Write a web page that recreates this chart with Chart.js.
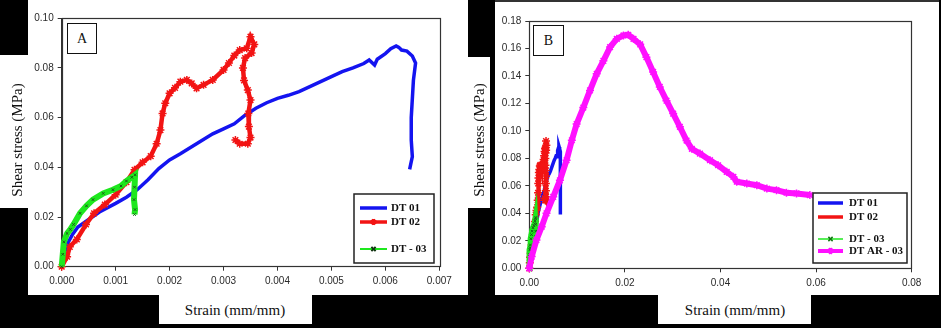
<!DOCTYPE html>
<html><head><meta charset="utf-8">
<script src="https://cdn.jsdelivr.net/npm/chart.js@4/dist/chart.umd.min.js"></script>
<style>
html,body{margin:0;padding:0;background:#fff;}
body{width:941px;height:328px;position:relative;overflow:hidden;}
canvas{position:absolute;top:0;}
.blk{position:absolute;background:#000;}
.wht{position:absolute;background:#fff;}
.ttl{position:absolute;font-family:"Liberation Serif","Times New Roman",serif;font-size:15px;color:#111;white-space:nowrap;line-height:1;}
.ylab{transform:translate(-50%,-50%) rotate(-90deg);}
.xlab{transform:translate(-50%,-50%);}
.pl{position:absolute;box-sizing:border-box;border:1.5px solid #111;font-family:"Liberation Serif","Times New Roman",serif;font-size:14px;color:#111;display:flex;align-items:center;justify-content:center;background:#fff;}
</style>
</head><body>
<canvas id="cA" width="470" height="295" style="left:0"></canvas>
<canvas id="cB" width="471" height="295" style="left:470px"></canvas>

<div class="blk" style="left:0;top:0;width:28px;height:55px"></div>
<div class="blk" style="left:0;top:208px;width:28px;height:87px"></div>
<div class="blk" style="left:0;top:295px;width:941px;height:33px"></div>
<div class="wht" style="left:159px;top:295px;width:153px;height:29px"></div>
<div class="wht" style="left:658px;top:295px;width:153px;height:29px"></div>
<div class="blk" style="left:468px;top:0;width:27px;height:57px"></div>
<div class="blk" style="left:490px;top:57px;width:5px;height:151px"></div>
<div class="blk" style="left:468px;top:208px;width:27px;height:87px"></div>
<div class="blk" style="left:495px;top:0;width:446px;height:2px;background:#333"></div>
<div class="blk" style="left:939px;top:0;width:2px;height:295px"></div>

<div class="ttl ylab" style="left:17px;top:140px">Shear stress (MPa)</div>
<div class="ttl ylab" style="left:479px;top:140px">Shear stress (MPa)</div>
<div class="ttl xlab" style="left:235px;top:310px">Strain (mm/mm)</div>
<div class="ttl xlab" style="left:735px;top:310px">Strain (mm/mm)</div>
<div class="pl" style="left:67px;top:23px;width:30px;height:31px">A</div>
<div class="pl" style="left:533px;top:25px;width:31px;height:31px">B</div>

<script>
// ---------- data ----------
const seriesNames = ["DT 01", "DT 02", "DT - 03", "DT AR - 03"];

const dt01Strain = [0, 0.00003, 0.0001, 0.0002, 0.0003, 0.0005, 0.0007, 0.0010, 0.0012, 0.0014, 0.0016, 0.0018, 0.0020, 0.0022, 0.0025, 0.0028, 0.0030, 0.0032, 0.0034, 0.0036, 0.0038, 0.0040, 0.0042, 0.0044, 0.0046, 0.0048, 0.0050, 0.0052, 0.0054, 0.0056, 0.0057, 0.0058, 0.00585, 0.0060, 0.0061, 0.0062, 0.00625, 0.0063, 0.0064, 0.0065, 0.00656, 0.00652, 0.00648, 0.00648, 0.00650, 0.00645];
const dt01Stress = [0, 0.004, 0.009, 0.013, 0.016, 0.019, 0.022, 0.0255, 0.028, 0.031, 0.035, 0.0395, 0.043, 0.0455, 0.0495, 0.0535, 0.0555, 0.0575, 0.061, 0.0638, 0.066, 0.0678, 0.069, 0.0705, 0.0725, 0.0745, 0.0765, 0.0785, 0.080, 0.0818, 0.0832, 0.0812, 0.0835, 0.0858, 0.0878, 0.0889, 0.0883, 0.0872, 0.0868, 0.0848, 0.0820, 0.0750, 0.0600, 0.0510, 0.0443, 0.0392];

const dt02Strain = [0, 0.0001, 0.00015, 0.00028, 0.00045, 0.0006, 0.0008, 0.0010, 0.0012, 0.00135, 0.0015, 0.00165, 0.00176, 0.00183, 0.00187, 0.00192, 0.0020, 0.0021, 0.0022, 0.00232, 0.00241, 0.0025, 0.00263, 0.0028, 0.0030, 0.0031, 0.0032, 0.0033, 0.00343, 0.0035, 0.00357, 0.00352, 0.0034, 0.00336, 0.00338, 0.00345, 0.0035, 0.00346, 0.00347, 0.0035, 0.00345, 0.0033, 0.00322];
const dt02Stress = [0, 0.004, 0.008, 0.011, 0.017, 0.0215, 0.025, 0.029, 0.034, 0.039, 0.042, 0.0445, 0.0495, 0.055, 0.0617, 0.0658, 0.0698, 0.072, 0.0745, 0.0752, 0.0738, 0.0718, 0.0732, 0.0752, 0.0792, 0.082, 0.085, 0.0872, 0.0879, 0.0926, 0.0895, 0.086, 0.084, 0.080, 0.075, 0.0711, 0.0671, 0.0617, 0.0564, 0.052, 0.0495, 0.0495, 0.051];

const dt03Strain = [0, 0.00002, 0.00004, 0.0001, 0.00016, 0.00022, 0.00034, 0.00046, 0.00058, 0.00077, 0.00095, 0.0011, 0.0012, 0.0013, 0.00136, 0.00135, 0.00134, 0.00136, 0.00135];
const dt03Stress = [0, 0.005, 0.010, 0.0134, 0.015, 0.017, 0.0215, 0.0245, 0.027, 0.0295, 0.031, 0.0325, 0.0345, 0.036, 0.037, 0.032, 0.027, 0.023, 0.021];

const dtAr03Strain = [0, 0.0005, 0.0015, 0.0026, 0.0036, 0.0050, 0.0064, 0.0078, 0.0089, 0.0099, 0.0113, 0.0127, 0.0141, 0.0155, 0.0169, 0.0183, 0.0197, 0.0207, 0.0218, 0.0232, 0.0245, 0.0259, 0.0273, 0.0287, 0.0301, 0.0315, 0.0329, 0.0340, 0.0357, 0.0378, 0.0395, 0.0413, 0.0427, 0.0434, 0.0455, 0.0476, 0.0497, 0.0517, 0.0538, 0.0559, 0.0587];
const dtAr03Stress = [0, 0.0085, 0.0206, 0.0303, 0.040, 0.052, 0.064, 0.0787, 0.0932, 0.105, 0.117, 0.1295, 0.1416, 0.151, 0.161, 0.167, 0.1695, 0.170, 0.167, 0.163, 0.1537, 0.1429, 0.132, 0.122, 0.1126, 0.103, 0.093, 0.087, 0.0835, 0.0787, 0.075, 0.0702, 0.0666, 0.063, 0.0617, 0.0605, 0.058, 0.0569, 0.055, 0.0545, 0.0533];

const xTicksA = [0, 0.001, 0.002, 0.003, 0.004, 0.005, 0.006, 0.007];
const yTicksA = [0, 0.02, 0.04, 0.06, 0.08, 0.10];
const xTicksB = [0, 0.02, 0.04, 0.06, 0.08];
const yTicksB = [0, 0.02, 0.04, 0.06, 0.08, 0.10, 0.12, 0.14, 0.16, 0.18];

// ---------- helpers ----------
const pts = (xs, ys) => xs.map((x, i) => ({x: x, y: ys[i]}));
const COL = {blue: '#1414f0', red: '#f21414', green: '#1ee81e', mag: '#ff10ff'};

function dsBlue(){ return {label: seriesNames[0], data: pts(dt01Strain, dt01Stress), borderColor: COL.blue, backgroundColor: COL.blue, borderWidth: 3.5, pointRadius: 0, _leg:{w:3.5}}; }
function dsRed(){ return {label: seriesNames[1], data: pts(dt02Strain, dt02Stress), borderColor: COL.red, backgroundColor: COL.red, borderWidth: 4.5, pointStyle: 'star', pointRadius: 4, pointBorderWidth: 1.5, pointBorderColor: COL.red, _leg:{w:3.5, marker:'star', mc: COL.red}}; }
function dsGreen(){ return {label: seriesNames[2], data: pts(dt03Strain, dt03Stress), borderColor: COL.green, backgroundColor: COL.green, borderWidth: 6, pointStyle: 'crossRot', pointRadius: 1.8, pointBorderWidth: 1, pointBorderColor: '#1a5a1a', _leg:{w:2, marker:'crossRot', mc:'#113311'}}; }
function dsMag(){ return {label: seriesNames[3], data: pts(dtAr03Strain, dtAr03Stress), borderColor: COL.mag, backgroundColor: COL.mag, borderWidth: 6, pointStyle: 'star', pointRadius: 4, pointBorderWidth: 1.5, pointBorderColor: COL.mag, _leg:{w:4, marker:'star', mc: COL.mag}}; }

const framePlugin = {
  id: 'frame',
  beforeDatasetsDraw(chart){
    const a = chart.chartArea, c = chart.ctx;
    c.save(); c.strokeStyle = '#333'; c.lineWidth = 1.2;
    c.strokeRect(Math.round(a.left)+0.5, Math.round(a.top)+0.5, Math.round(a.right-a.left), Math.round(a.bottom-a.top));
    c.restore();
  }
};

const legendPlugin = {
  id: 'boxLegend',
  afterDraw(chart, args, o){
    const c = chart.ctx;
    c.save();
    c.fillStyle = '#fff'; c.fillRect(o.box[0], o.box[1], o.box[2], o.box[3]);
    c.strokeStyle = '#222'; c.lineWidth = 1.5;
    c.strokeRect(o.box[0], o.box[1], o.box[2], o.box[3]);
    o.rows.forEach(r => {
      const ds = chart.data.datasets[r.i];
      const L = ds._leg;
      c.strokeStyle = ds.borderColor; c.lineWidth = L.w;
      c.beginPath(); c.moveTo(o.lineX[0], r.y); c.lineTo(o.lineX[1], r.y); c.stroke();
      if (L.marker) {
        c.strokeStyle = L.mc; c.fillStyle = L.mc;
        Chart.helpers.drawPoint(c, {pointStyle: L.marker, radius: 3, rotation: 0, borderWidth: 1.5}, (o.lineX[0]+o.lineX[1])/2, r.y);
      }
      c.fillStyle = '#111';
      c.font = 'bold 11px "Liberation Serif", "Times New Roman", serif';
      c.textBaseline = 'middle'; c.textAlign = 'left';
      c.fillText(ds.label, o.textX, r.y + 0.5);
    });
    c.restore();
  }
};

function scaleX(min, max, ticks, dec, h){
  return {type:'linear', min:min, max:max,
    afterBuildTicks: s => { s.ticks = ticks.map(v => ({value: v})); },
    ticks:{callback: v => Number(v).toFixed(dec), font:{family:'"Liberation Sans", Arial, sans-serif', size:10}, color:'#2a2a2a', padding:5, autoSkip:false, maxRotation:0},
    grid:{display:true, drawOnChartArea:false, drawTicks:true, tickLength:4, color:'#333'},
    border:{display:true, color:'#333', width:1},
    afterFit: s => { s.height = h; }
  };
}
function scaleY(min, max, ticks, dec, w){
  return {type:'linear', min:min, max:max,
    afterBuildTicks: s => { s.ticks = ticks.map(v => ({value: v})); },
    ticks:{callback: v => Number(v).toFixed(dec), font:{family:'"Liberation Sans", Arial, sans-serif', size:10}, color:'#2a2a2a', padding:4, autoSkip:false},
    grid:{display:true, drawOnChartArea:false, drawTicks:true, tickLength:4, color:'#333'},
    border:{display:true, color:'#333', width:1},
    afterFit: s => { s.width = w; }
  };
}

function build(id, datasets, sx, sy, pad, leg){
  return new Chart(document.getElementById(id), {
    type: 'line',
    data: {datasets: datasets},
    options: {
      responsive:false, animation:false, devicePixelRatio:1,
      layout:{padding: pad},
      elements:{line:{tension:0}},
      datasets:{line:{clip:false}},
      scales:{x: sx, y: sy},
      plugins:{legend:{display:false}, tooltip:{enabled:false}, boxLegend: leg}
    },
    plugins:[framePlugin, legendPlugin]
  });
}

// Panel A
const aBlue = dsBlue(); aBlue.order = 2;
const aRed = dsRed(); aRed.order = 1;
const aGreen = dsGreen(); aGreen.order = 0; aGreen._leg = {w:2, marker:'crossRot', mc:'#113311'};
build('cA', [aBlue, aRed, aGreen],
  scaleX(0, 0.007, xTicksA, 3, 28.3),
  scaleY(0, 0.10, yTicksA, 2, 61.7),
  {left:0, top:18.3, right:30.7, bottom:0},
  {box:[354, 194, 80, 69], lineX:[360, 387], textX:391, rows:[{i:0, y:208}, {i:1, y:222}, {i:2, y:249}]});

// Panel B
const bBlue = dsBlue(); bBlue.order = 3;
const bRed = dsRed(); bRed.order = 2; bRed._leg = {w:3.5};
const bGreen = dsGreen(); bGreen.order = 1; bGreen._leg = {w:1.5, marker:'crossRot', mc:'#117711'};
const bMag = dsMag(); bMag.order = 0;
build('cB', [bBlue, bRed, bGreen, bMag],
  scaleX(0, 0.08, xTicksB, 2, 26.7),
  scaleY(0, 0.18, yTicksB, 2, 59.3),
  {left:0, top:21, right:29.3, bottom:0},
  {box:[343, 193, 94, 70], lineX:[348, 373], textX:379, rows:[{i:0, y:203}, {i:1, y:217}, {i:2, y:239}, {i:3, y:251}]});
</script>
</body></html>
